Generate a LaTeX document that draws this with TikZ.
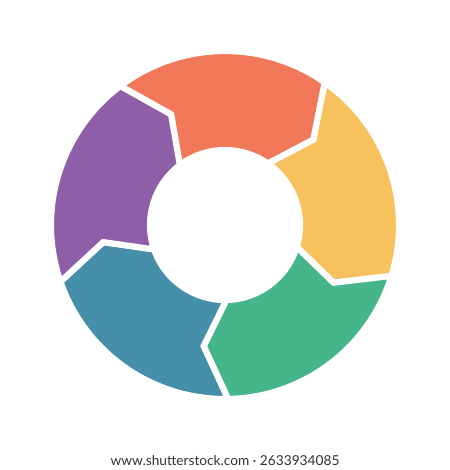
\documentclass[tikz,border=0pt]{standalone}
\usepackage{fontspec}
\setmainfont{Lato}
\definecolor{segred}{HTML}{F2785A}
\definecolor{segyellow}{HTML}{F7C25E}
\definecolor{seggreen}{HTML}{45B58B}
\definecolor{segblue}{HTML}{468FAB}
\definecolor{segpurple}{HTML}{8E5EA8}
\begin{document}
\begin{tikzpicture}[segment/.style={draw=white,line width=3.5pt,line join=miter}]
   \useasboundingbox (-4.5,-4.9) rectangle (4.5,4.5);

   % five arrow pieces of the ring, clockwise
   \foreach \s/\c in {127/segred,55/segyellow,-17/seggreen,-89/segblue,-161/segpurple}{
   \pgfmathsetmacro{\e}{\s-72}
   \pgfmathsetmacro{\tip}{\e-11}
   \pgfmathsetmacro{\notch}{\s-11}
   \filldraw[segment,fill=\c] (\s:3.48) arc[start angle=\s,end angle=\e,radius=3.48]
   -- (\tip:2.46) -- (\e:1.50) arc[start angle=\e,end angle=\s,radius=1.50]
   -- (\notch:2.46) -- cycle;
   }

   \node[text=black!80] (credit) at (0,-4.72)
   {\fontsize{7.8pt}{9pt}\selectfont www.shutterstock.com · 2633934085};
 \end{tikzpicture}
\end{document}
